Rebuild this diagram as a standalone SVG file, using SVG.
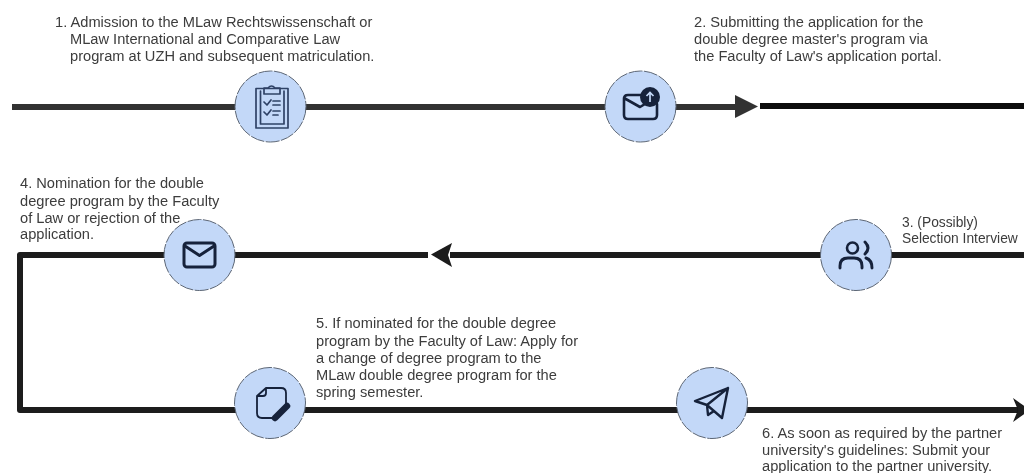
<svg xmlns="http://www.w3.org/2000/svg" width="1024" height="473" viewBox="0 0 1024 473">
<style>
.t{font-family:"Liberation Sans",Arial,sans-serif;font-size:14.65px;fill:#3c3c3c}
.c{fill:#c3d8f8;stroke:#5c6675;stroke-width:1;stroke-dasharray:14 1.5}
.l{fill:none;stroke:#1a1a1a;stroke-width:6;stroke-linejoin:round}
.i{fill:none;stroke:#16223a;stroke-width:2.6;stroke-linecap:round;stroke-linejoin:round}
.i1{fill:none;stroke:#2f4266;stroke-width:1.7;stroke-linejoin:round;stroke-linecap:round}
</style>
<defs><filter id="soft" x="-5%" y="-5%" width="110%" height="110%"><feGaussianBlur stdDeviation="0.45"/></filter></defs>
<rect width="1024" height="473" fill="#fff"/>
<g filter="url(#soft)">
<g id="connectors">
<path class="l" d="M12 107H737" style="stroke:#333"/>
<path fill="#333" d="M735 95L758 106.500L735 118Z"/>
<path class="l" d="M760 106H1024" style="stroke:#0c0c0c"/>
<path class="l" d="M1024 255H450"/>
<path fill="#1a1a1a" d="M452 243L431 254.500L452 267L448 255Z"/>
<path class="l" d="M428 255H20V410H1020"/>
<path fill="#1a1a1a" d="M1013 398L1030 410L1013 422L1018 410Z"/>
</g>
<g id="n1">
<circle class="c" cx="270.500" cy="106.500" r="35.500"/>
<rect class="i1" x="256" y="88.500" width="32" height="39.500"/>
<path class="i1" d="M260.500 91V124H284V91M264 94V88H268Q271.500 84 275 88H280V94Z"/>
<path class="i1" d="M264 102L267 105L271 100M273 101H280M273 105H280M264 112L267 115L271 110M273 111H280M273 115H278"/>
</g>
<g id="n2">
<circle class="c" cx="640.500" cy="106.500" r="35.500"/>
<path class="i" d="M642 95H628Q624 95 624 99V115Q624 119 628 119H653Q657 119 657 115V104M624 98L640 107L645 104"/>
<circle cx="650" cy="97" r="10" fill="#16223a"/>
<path d="M650 102V92.500M646.500 96L650 92.500L653.500 96" fill="none" stroke="#c3d8f8" stroke-width="1.700"/>
</g>
<g id="n3">
<circle class="c" cx="856" cy="255" r="35.500"/>
<circle class="i" cx="852.500" cy="248" r="5.500"/>
<path class="i" style="stroke-width:2.900" d="M840 268V266Q840 258 848 258H854Q862 258 862 266V268M865 242Q871 248 865 254M866 258Q872 260 872 268"/>
</g>
<g id="n4">
<circle class="c" cx="199.500" cy="255" r="35.500"/>
<rect class="i" style="stroke-width:3" x="184" y="243" width="31" height="24" rx="3"/>
<path class="i" style="stroke-width:3" d="M185 246L199.500 255.500L214 246"/>
</g>
<g id="n5">
<circle class="c" cx="270" cy="403" r="35.500"/>
<path class="i" style="stroke-width:1.800" d="M266 388H281Q286 388 286 393V404M257 396L266 388V393Q266 396 263 396H257V413Q257 418 262 418H272"/>
<path d="M275 418L287 406" stroke="#16223a" stroke-width="6.500" stroke-linecap="round"/>
</g>
<g id="n6">
<circle class="c" cx="712" cy="403" r="35.500"/>
<path class="i" style="stroke-width:2.400" d="M695 401L728 388L722 418L707 405ZM707 405L728 388M707 405L708 415L714 411"/>
</g>
</g>
<g id="labels" filter="url(#soft)">
<text class="t"><tspan x="55" y="27">1. Admission to the MLaw Rechtswissenschaft or</tspan><tspan x="70" y="44">MLaw International and Comparative Law</tspan><tspan x="70" y="61">program at UZH and subsequent matriculation.</tspan></text>
<text class="t"><tspan x="694" y="27">2. Submitting the application for the</tspan><tspan x="694" y="44">double degree master's program via</tspan><tspan x="694" y="61">the Faculty of Law's application portal.</tspan></text>
<text class="t"><tspan x="20" y="188">4. Nomination for the double</tspan><tspan x="20" y="206">degree program by the Faculty</tspan><tspan x="20" y="223">of Law or rejection of the</tspan><tspan x="20" y="239">application.</tspan></text>
<text class="t" style="font-size:13.8px"><tspan x="902" y="227">3. (Possibly)</tspan><tspan x="902" y="243">Selection Interview</tspan></text>
<text class="t"><tspan x="316" y="328">5. If nominated for the double degree</tspan><tspan x="316" y="345.500">program by the Faculty of Law: Apply for</tspan><tspan x="316" y="363">a change of degree program to the</tspan><tspan x="316" y="380">MLaw double degree program for the</tspan><tspan x="316" y="397">spring semester.</tspan></text>
<text class="t"><tspan x="762" y="438">6. As soon as required by the partner</tspan><tspan x="762" y="454.500">university's guidelines: Submit your</tspan><tspan x="762" y="471">application to the partner university.</tspan></text>
</g>
</svg>
